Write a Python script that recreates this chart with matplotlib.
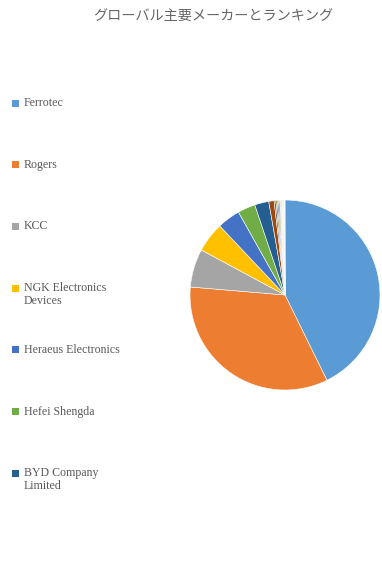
import matplotlib
matplotlib.use("Agg")
import matplotlib.pyplot as plt
from matplotlib.patches import Rectangle

TITLE = "グローバル主要メーカーとランキング"

# main makers shown in the legend
makers = ["Ferrotec", "Rogers", "KCC", "NGK Electronics\nDevices",
          "Heraeus Electronics", "Hefei Shengda", "BYD Company\nLimited"]
shares = [42.7, 33.6, 6.5, 5.1, 3.9, 3.0, 2.4]

# remaining small makers (not listed in legend)
small_shares = [0.9, 0.3, 0.25, 0.2, 0.2, 0.15, 0.15, 0.12, 0.1, 0.1, 0.08, 0.08, 0.06, 0.05]

palette = ["#5B9BD5", "#ED7D31", "#A5A5A5", "#FFC000", "#4472C4", "#70AD47",
           "#255E91", "#9E480E", "#636363", "#997300", "#264478", "#43682B",
           "#7CAFDD", "#F1975A", "#B7B7B7", "#FFCD33", "#698ED0", "#8CC168",
           "#327DC2", "#D26012"]


def main():
    fig = plt.figure(figsize=(3.82, 5.74), dpi=100)
    W, H = 382, 574

    values = shares + small_shares
    colors = palette[:len(values)]

    ax = fig.add_axes([(285 - 95) / W, (H - 390) / H, 190 / W, 190 / H])
    ax.pie(values, colors=colors, startangle=90, counterclock=False,
           wedgeprops=dict(edgecolor="white", linewidth=0.4))
    ax.set_xlim(-1, 1)
    ax.set_ylim(-1, 1)
    ax.set_aspect("auto")
    ax.axis("off")

    fig.text(213 / W, 1 - 17 / H, TITLE, ha="center", va="center",
             fontsize=10.2, color="#666666", family=["Noto Sans CJK JP", "DejaVu Sans"])

    # legend, one entry every ~61.7 px
    for i, name in enumerate(makers):
        y = 103 + i * 61.7
        fig.patches.append(Rectangle((12 / W, 1 - (y + 3.5) / H), 7 / W, 7 / H,
                                     transform=fig.transFigure, facecolor=palette[i],
                                     edgecolor="none"))
        fig.text(24 / W, 1 - (y - 6) / H, name, ha="left", va="top", fontsize=8.6,
                 color="#595959", family="Liberation Serif", linespacing=1.1)

    fig.savefig("out.png", dpi=100)


if __name__ == "__main__":
    main()
